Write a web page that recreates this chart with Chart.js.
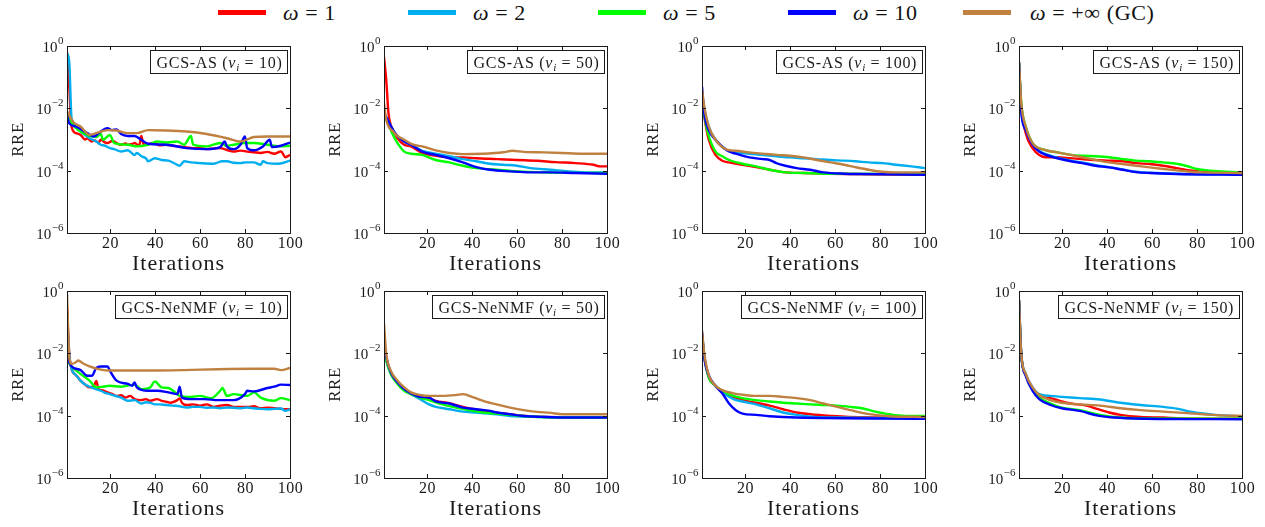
<!DOCTYPE html>
<html>
<head>
<meta charset="utf-8">
<script src="https://cdn.jsdelivr.net/npm/chart.js@4"></script>
<style>
  body { margin: 0; background: #fff; width: 1265px; height: 527px; overflow: hidden; position: relative; font-family: "Liberation Serif", serif; }
  .cell { position: absolute; }
  .key { position: absolute; top: 0; height: 26px; display: flex; align-items: center; font-size: 22px; letter-spacing: 0.6px; color: #111; white-space: nowrap; }
  .key i { font-style: italic; }
  .swatch { position: absolute; top: 10px; height: 5px; width: 48px; }
</style>
</head>
<body>
<div id="legend"></div>
<script>
// axis setup
const iterTicks = [20, 40, 60, 80, 100];
const rreExponents = [0, -2, -4, -6];
const omegaLabels = ["1", "2", "5", "10", "+\u221E (GC)"];
const seriesColors = ["#ff0000", "#00aeef", "#00ff00", "#0000ff", "#bf8040"];
const colLeft = [67, 384, 702, 1019];
const rowTop = [46, 291];

// RRE vs iteration, [iteration, RRE]
// GCS-AS, nu_i = 10
const as10_w1 = [[1,0.6],[2,0.05],[3,2.6e-3],[5,1.6e-3],[7,1.4e-3],[9,1.0e-3],[10,1.1e-3],[12,8.6e-4],[13,9.5e-4],[15,8.0e-4],[16,9.8e-4],[18,8.0e-4],[19,7.7e-4],[21,9.0e-4],[22,8.6e-4],[24,7.0e-4],[25,6.8e-4],[27,7.5e-4],[28,6.8e-4],[30,7.2e-4],[31,7.7e-4],[33,6.3e-4],[34,1.3e-3],[35,6.8e-4],[37,7.2e-4],[40,7.7e-4],[42,6.5e-4],[45,6.8e-4],[48,6.3e-4],[51,6.0e-4],[54,5.6e-4],[57,5.3e-4],[60,5.5e-4],[63,4.9e-4],[66,5.2e-4],[69,5.3e-4],[72,4.6e-4],[75,4.1e-4],[78,4.4e-4],[81,4.1e-4],[84,3.9e-4],[87,3.7e-4],[90,4.0e-4],[93,3.5e-4],[96,4.1e-4],[98,2.7e-4],[100,3.2e-4]];
const as10_w2 = [[1,0.6],[2,0.3],[3,5e-3],[5,2.6e-3],[7,1.8e-3],[9,1.4e-3],[11,1.1e-3],[14,8.6e-4],[16,6.8e-4],[18,6.3e-4],[20,5.3e-4],[22,4.9e-4],[25,4.1e-4],[28,4.5e-4],[31,3.2e-4],[32,3.7e-4],[34,2.9e-4],[36,2.5e-4],[37,2.0e-4],[40,2.5e-4],[43,2.2e-4],[46,2.1e-4],[49,1.67e-4],[51,1.44e-4],[53,2.0e-4],[56,1.84e-4],[60,1.75e-4],[66,1.67e-4],[70,2.0e-4],[72,2.0e-4],[75,1.8e-4],[78,1.75e-4],[80,1.84e-4],[84,1.84e-4],[87,1.55e-4],[88,2.0e-4],[90,1.75e-4],[95,1.67e-4],[100,2.1e-4]];
const as10_w5 = [[1,8e-3],[3,3.5e-3],[6,2.0e-3],[11,1.3e-3],[14,1.2e-3],[16,1.5e-3],[17,9.8e-4],[20,1.4e-3],[22,7.7e-4],[28,6.8e-4],[32,6.0e-4],[37,6.8e-4],[41,8.6e-4],[45,8.0e-4],[50,8.6e-4],[53,6.8e-4],[56,1.3e-3],[57,6.8e-4],[63,6.0e-4],[69,7.7e-4],[72,6.3e-4],[75,6.8e-4],[80,7.7e-4],[84,7.7e-4],[90,6.8e-4],[96,6.0e-4],[100,6.3e-4]];
const as10_w10 = [[1,6e-3],[2,3.3e-3],[5,2.6e-3],[10,1.6e-3],[13,1.25e-3],[15,1.6e-3],[19,2.3e-3],[21,2.0e-3],[23,2.1e-3],[25,1.5e-3],[28,1.3e-3],[31,1.3e-3],[34,9.8e-4],[37,7.3e-4],[45,6.8e-4],[54,5.3e-4],[63,4.9e-4],[69,5.7e-4],[71,8.6e-4],[72,6.0e-4],[75,4.9e-4],[78,6.8e-4],[80,1.25e-3],[81,5.3e-4],[84,4.5e-4],[88,6.0e-4],[91,9.8e-4],[92,5.7e-4],[96,6.3e-4],[100,8.0e-4]];
const as10_gc = [[1,8e-3],[4,3.5e-3],[7,2.6e-3],[11,1.4e-3],[14,1.6e-3],[19,2.0e-3],[23,1.95e-3],[28,1.6e-3],[32,1.6e-3],[37,2.0e-3],[45,1.95e-3],[54,1.8e-3],[63,1.5e-3],[72,1.1e-3],[78,8.6e-4],[84,1.2e-3],[90,1.25e-3],[100,1.25e-3]];

// GCS-AS, nu_i = 50
const as50_w1 = [[1,0.45],[2,8e-2],[3,7e-3],[5,2.0e-3],[7,1.1e-3],[10,6.8e-4],[13,6.0e-4],[18,3.7e-4],[24,3.0e-4],[30,2.7e-4],[36,2.66e-4],[42,2.5e-4],[51,2.35e-4],[60,2.2e-4],[69,2.08e-4],[77,1.88e-4],[86,1.75e-4],[94,1.55e-4],[97,1.37e-4],[100,1.37e-4]];
const as50_w2 = [[1,6e-3],[2,5e-3],[5,2.0e-3],[7,1.3e-3],[10,8.6e-4],[13,6.8e-4],[18,4.35e-4],[24,3.5e-4],[30,2.9e-4],[36,2.35e-4],[42,2.0e-4],[48,1.67e-4],[54,1.55e-4],[60,1.44e-4],[66,1.21e-4],[75,1.07e-4],[83,9.5e-5],[93,8.8e-5],[100,8.8e-5]];
const as50_w5 = [[1,6e-3],[2,4.5e-3],[5,1.4e-3],[7,7.7e-4],[10,4.1e-4],[13,3.5e-4],[18,3.2e-4],[24,2.2e-4],[30,1.84e-4],[36,1.44e-4],[42,1.21e-4],[51,1.07e-4],[60,9.5e-5],[72,8.8e-5],[100,8.4e-5]];
const as50_w10 = [[1,7e-3],[2,5.2e-3],[5,2.0e-3],[7,1.3e-3],[10,8.6e-4],[13,6.8e-4],[18,4.1e-4],[24,3.2e-4],[30,2.5e-4],[36,1.84e-4],[42,1.3e-4],[48,1.07e-4],[57,9.5e-5],[66,8.8e-5],[75,8.8e-5],[86,8.4e-5],[100,8.0e-5]];
const as50_gc = [[1,1.5e-2],[2,4.3e-3],[5,1.8e-3],[7,1.3e-3],[10,9.8e-4],[14,6.8e-4],[18,6.0e-4],[24,4.5e-4],[30,3.7e-4],[36,3.4e-4],[45,3.5e-4],[54,3.9e-4],[58,4.35e-4],[63,4.0e-4],[72,3.85e-4],[80,3.7e-4],[89,3.5e-4],[100,3.5e-4]];

// GCS-AS, nu_i = 100
const as100_w1 = [[1,2e-2],[2,5.5e-3],[4,9.8e-4],[7,3.2e-4],[10,2.08e-4],[13,1.84e-4],[19,1.55e-4],[25,1.3e-4],[31,1.07e-4],[37,9.0e-5],[46,8.4e-5],[57,8.0e-5],[100,7.4e-5]];
const as100_w2 = [[1,3e-2],[2,1e-2],[4,2.6e-3],[7,9.8e-4],[12,4.6e-4],[16,3.85e-4],[22,3.5e-4],[28,3.15e-4],[34,2.9e-4],[40,2.66e-4],[46,2.5e-4],[52,2.35e-4],[58,2.2e-4],[64,2.1e-4],[69,2.0e-4],[75,1.84e-4],[81,1.75e-4],[87,1.55e-4],[94,1.37e-4],[100,1.21e-4]];
const as100_w5 = [[1,2e-2],[2,6e-3],[4,1.3e-3],[7,4.1e-4],[10,2.9e-4],[13,2.2e-4],[19,1.67e-4],[25,1.37e-4],[31,1.07e-4],[37,9.0e-5],[46,8.4e-5],[57,8.0e-5],[100,7.8e-5]];
const as100_w10 = [[1,5e-2],[2,7e-3],[4,2.0e-3],[7,9.8e-4],[12,4.5e-4],[16,3.5e-4],[22,2.66e-4],[28,2.35e-4],[31,2.2e-4],[34,1.75e-4],[38,1.44e-4],[43,1.21e-4],[49,1.07e-4],[55,8.8e-5],[64,8.0e-5],[72,7.8e-5],[100,7.4e-5]];
const as100_gc = [[1,4e-2],[2,1.14e-2],[4,2.6e-3],[7,9.8e-4],[12,4.7e-4],[16,4.35e-4],[22,3.85e-4],[28,3.5e-4],[34,3.2e-4],[40,3.0e-4],[46,2.66e-4],[52,2.2e-4],[58,1.84e-4],[64,1.55e-4],[69,1.3e-4],[75,1.07e-4],[81,9.2e-5],[87,8.8e-5],[100,8.8e-5]];

// GCS-AS, nu_i = 150
const as150_w1 = [[1,0.3],[2,1.2e-2],[4,1.6e-3],[7,5.3e-4],[10,3.2e-4],[13,2.7e-4],[18,2.7e-4],[24,2.5e-4],[29,2.35e-4],[35,2.2e-4],[41,2.1e-4],[47,2.0e-4],[53,1.75e-4],[59,1.63e-4],[65,1.44e-4],[71,1.21e-4],[77,1.02e-4],[83,9.2e-5],[89,8.4e-5],[100,8.0e-5]];
const as150_w2 = [[1,0.3],[2,9e-3],[4,2.2e-3],[7,7.3e-4],[10,4.3e-4],[13,3.4e-4],[18,2.6e-4],[24,2.1e-4],[29,1.84e-4],[35,1.51e-4],[41,1.3e-4],[47,1.1e-4],[53,9.2e-5],[59,8.6e-5],[71,8.0e-5],[100,7.6e-5]];
const as150_w5 = [[1,0.3],[2,1.46e-2],[4,2.6e-3],[7,7.7e-4],[12,4.7e-4],[18,3.85e-4],[24,3.2e-4],[29,3.0e-4],[35,2.9e-4],[41,2.7e-4],[47,2.35e-4],[53,2.1e-4],[59,2.0e-4],[65,1.84e-4],[71,1.67e-4],[75,1.44e-4],[80,1.13e-4],[86,1.0e-4],[93,9.2e-5],[100,8.8e-5]];
const as150_w10 = [[1,0.3],[2,8e-3],[4,2.0e-3],[7,6.8e-4],[10,4.1e-4],[13,3.2e-4],[18,2.5e-4],[24,2.0e-4],[29,1.75e-4],[35,1.44e-4],[41,1.27e-4],[47,1.07e-4],[53,9.0e-5],[59,8.4e-5],[71,7.8e-5],[100,7.4e-5]];
const as150_gc = [[1,0.3],[2,1.46e-2],[4,2.6e-3],[7,7.7e-4],[12,4.7e-4],[18,3.85e-4],[24,3.2e-4],[29,2.7e-4],[35,2.2e-4],[41,1.84e-4],[47,1.63e-4],[53,1.44e-4],[59,1.27e-4],[65,1.13e-4],[71,1.02e-4],[77,9.2e-5],[83,8.8e-5],[100,8.4e-5]];

// GCS-NeNMF, nu_i = 10
const ne10_w1 = [[1,0.3],[2,1e-2],[3,3.2e-3],[5,2.0e-3],[7,1.33e-3],[9,1.0e-3],[11,8.1e-4],[13,9.0e-4],[14,1.3e-3],[15,7.1e-4],[17,6.5e-4],[19,5.6e-4],[21,5.0e-4],[23,4.3e-4],[25,4.5e-4],[27,3.8e-4],[29,4.3e-4],[31,3.4e-4],[34,3.15e-4],[36,3.4e-4],[38,3.0e-4],[41,3.4e-4],[43,3.0e-4],[45,2.8e-4],[47,2.6e-4],[50,3.15e-4],[51,3.6e-4],[52,2.6e-4],[54,2.2e-4],[57,2.3e-4],[60,2.1e-4],[63,2.3e-4],[66,1.91e-4],[69,2.1e-4],[72,2.2e-4],[75,1.91e-4],[78,1.91e-4],[81,1.91e-4],[84,2.0e-4],[87,1.73e-4],[90,1.8e-4],[93,1.73e-4],[96,1.65e-4],[100,1.61e-4]];
const ne10_w2 = [[1,0.2],[2,9e-3],[3,3.2e-3],[5,2.0e-3],[7,1.33e-3],[9,1.0e-3],[11,8.5e-4],[13,7.5e-4],[16,6.3e-4],[18,5.4e-4],[20,4.9e-4],[23,4.2e-4],[25,3.8e-4],[28,3.0e-4],[31,3.15e-4],[34,2.45e-4],[36,2.7e-4],[38,2.6e-4],[40,2.3e-4],[42,2.3e-4],[45,2.2e-4],[48,2.1e-4],[51,2.0e-4],[54,1.82e-4],[57,1.91e-4],[60,1.91e-4],[63,1.8e-4],[66,1.82e-4],[69,1.73e-4],[72,1.82e-4],[75,1.8e-4],[78,1.73e-4],[81,1.82e-4],[84,1.73e-4],[87,1.65e-4],[90,1.61e-4],[93,1.65e-4],[96,1.69e-4],[98,1.42e-4],[100,1.61e-4]];
const ne10_w5 = [[1,6e-3],[3,3.8e-3],[7,2.2e-3],[11,1.33e-3],[14,8.1e-4],[17,8.5e-4],[20,9.1e-4],[25,8.5e-4],[31,9.9e-4],[34,7.1e-4],[38,8.1e-4],[40,1.26e-3],[43,8.1e-4],[46,7.7e-4],[49,5.6e-4],[51,4.3e-4],[56,4.0e-4],[60,4.3e-4],[65,3.65e-4],[69,6.3e-4],[70,7.7e-4],[72,4.3e-4],[75,4.9e-4],[81,4.3e-4],[84,5.6e-4],[87,3.8e-4],[93,3.0e-4],[96,3.65e-4],[100,3.15e-4]];
const ne10_w10 = [[1,7.5e-3],[3,3.8e-3],[7,2.9e-3],[10,1.9e-3],[12,1.9e-3],[14,3.4e-3],[16,3.8e-3],[19,3.8e-3],[20,2.8e-3],[23,1.33e-3],[28,1.04e-3],[30,9.1e-4],[31,1.17e-3],[32,8.1e-4],[37,6.3e-4],[41,6.3e-4],[46,5.6e-4],[50,4.9e-4],[51,8.5e-4],[52,3.8e-4],[56,3.4e-4],[62,3.4e-4],[68,3.15e-4],[75,3.15e-4],[80,4.9e-4],[81,6.3e-4],[84,6.0e-4],[90,7.7e-4],[93,8.5e-4],[96,9.9e-4],[100,9.6e-4]];
const ne10_gc = [[1,0.84],[2,7.5e-3],[3,4.6e-3],[5,5.2e-3],[6,5.9e-3],[8,4.8e-3],[11,3.8e-3],[16,3.0e-3],[20,2.8e-3],[28,2.8e-3],[38,2.8e-3],[53,2.9e-3],[68,3.1e-3],[83,3.2e-3],[93,3.2e-3],[96,2.9e-3],[100,3.4e-3]];

// GCS-NeNMF, nu_i = 50
const ne50_w1 = [[1,1.5e-2],[2,7e-3],[4,2.3e-3],[7,1.1e-3],[10,6.8e-4],[13,5.0e-4],[17,4.0e-4],[21,3.65e-4],[24,3.0e-4],[30,2.5e-4],[36,1.9e-4],[42,1.55e-4],[48,1.35e-4],[54,1.17e-4],[60,1.04e-4],[70,9.3e-5],[100,8.7e-5]];
const ne50_w2 = [[1,1.5e-2],[2,6e-3],[4,2.2e-3],[7,1.1e-3],[10,6.8e-4],[13,4.9e-4],[17,3.4e-4],[21,2.3e-4],[24,1.91e-4],[30,1.61e-4],[36,1.35e-4],[42,1.26e-4],[51,1.11e-4],[57,9.8e-5],[72,9.1e-5],[100,8.7e-5]];
const ne50_w5 = [[1,1.5e-2],[2,6e-3],[4,2.2e-3],[7,1.04e-3],[10,6.3e-4],[13,4.9e-4],[17,3.8e-4],[21,3.15e-4],[27,2.3e-4],[33,1.82e-4],[39,1.5e-4],[45,1.26e-4],[51,1.17e-4],[57,1.06e-4],[69,9.1e-5],[100,8.7e-5]];
const ne50_w10 = [[1,2e-2],[2,7.5e-3],[4,2.5e-3],[7,1.17e-3],[10,7.1e-4],[13,5.2e-4],[17,4.0e-4],[21,3.8e-4],[24,2.85e-4],[30,2.45e-4],[36,1.82e-4],[42,1.61e-4],[48,1.42e-4],[51,1.26e-4],[57,1.11e-4],[63,9.8e-5],[72,9.1e-5],[86,8.7e-5],[100,8.7e-5]];
const ne50_gc = [[1,9e-2],[2,9.7e-3],[4,2.8e-3],[7,1.33e-3],[10,8.1e-4],[13,5.6e-4],[17,4.6e-4],[21,4.3e-4],[27,4.3e-4],[33,4.6e-4],[36,4.9e-4],[41,3.8e-4],[45,3.0e-4],[51,2.3e-4],[57,1.82e-4],[63,1.5e-4],[69,1.32e-4],[75,1.23e-4],[80,1.11e-4],[100,1.11e-4]];

// GCS-NeNMF, nu_i = 100
const ne100_w1 = [[1,4e-2],[2,8e-3],[4,1.7e-3],[7,9.1e-4],[10,5.6e-4],[15,4.0e-4],[19,3.15e-4],[25,2.6e-4],[31,2.1e-4],[37,1.61e-4],[43,1.26e-4],[49,1.11e-4],[58,9.8e-5],[66,9.1e-5],[100,8.7e-5]];
const ne100_w2 = [[1,4e-2],[2,8e-3],[4,1.7e-3],[7,9.1e-4],[10,5.6e-4],[15,3.4e-4],[19,2.85e-4],[25,2.3e-4],[31,1.73e-4],[37,1.26e-4],[43,1.06e-4],[51,9.1e-5],[61,8.7e-5],[100,8.2e-5]];
const ne100_w5 = [[1,4e-2],[2,8.5e-3],[4,1.7e-3],[7,9.1e-4],[10,6.3e-4],[15,4.3e-4],[19,3.65e-4],[25,3.15e-4],[31,2.85e-4],[37,2.6e-4],[43,2.45e-4],[49,2.3e-4],[55,2.2e-4],[61,2.1e-4],[67,1.91e-4],[72,1.73e-4],[78,1.35e-4],[84,1.11e-4],[91,9.8e-5],[100,9.8e-5]];
const ne100_w10 = [[1,5e-2],[2,7.5e-3],[4,2.0e-3],[7,9.1e-4],[10,5.2e-4],[13,2.45e-4],[16,1.5e-4],[19,1.17e-4],[25,1.06e-4],[31,9.6e-5],[43,8.7e-5],[100,8.0e-5]];
const ne100_gc = [[1,5.5e-2],[2,1.0e-2],[4,2.0e-3],[7,9.1e-4],[10,6.6e-4],[15,5.2e-4],[19,4.7e-4],[25,4.3e-4],[31,4.3e-4],[37,4.0e-4],[43,3.65e-4],[49,3.15e-4],[55,2.45e-4],[61,1.91e-4],[67,1.5e-4],[72,1.23e-4],[78,1.06e-4],[84,9.6e-5],[100,9.1e-5]];

// GCS-NeNMF, nu_i = 150
const ne150_w1 = [[1,0.5],[2,9.7e-3],[4,2.0e-3],[7,7.5e-4],[10,4.3e-4],[15,3.65e-4],[20,2.85e-4],[24,2.45e-4],[31,2.1e-4],[36,1.61e-4],[41,1.26e-4],[46,1.06e-4],[55,9.1e-5],[65,8.7e-5],[73,8.2e-5],[100,8.0e-5]];
const ne150_w2 = [[1,0.5],[2,9.7e-3],[4,2.2e-3],[7,8.1e-4],[10,4.9e-4],[15,4.3e-4],[20,4.0e-4],[28,3.65e-4],[37,3.3e-4],[46,2.6e-4],[55,2.2e-4],[65,1.91e-4],[71,1.69e-4],[77,1.35e-4],[83,1.17e-4],[88,1.06e-4],[100,9.6e-5]];
const ne150_w5 = [[1,0.5],[2,9e-3],[4,2.0e-3],[7,6.6e-4],[10,3.8e-4],[15,2.45e-4],[20,1.82e-4],[28,1.5e-4],[36,1.1e-4],[43,9.1e-5],[57,8.2e-5],[100,8.0e-5]];
const ne150_w10 = [[1,0.5],[2,9e-3],[4,1.9e-3],[7,6.3e-4],[10,3.4e-4],[15,2.2e-4],[20,1.73e-4],[28,1.42e-4],[36,1.0e-4],[43,8.7e-5],[57,8.0e-5],[100,7.7e-5]];
const ne150_gc = [[1,0.5],[2,9.7e-3],[4,2.2e-3],[7,8.1e-4],[10,4.6e-4],[15,3.15e-4],[20,2.6e-4],[28,2.3e-4],[37,2.1e-4],[46,1.73e-4],[55,1.5e-4],[65,1.35e-4],[74,1.23e-4],[83,1.11e-4],[91,1.02e-4],[100,9.8e-5]];

const panels = [
  { method: "GCS-AS", nu: 10, col: 0, row: 0, series: [as10_w1, as10_w2, as10_w5, as10_w10, as10_gc] },
  { method: "GCS-AS", nu: 50, col: 1, row: 0, series: [as50_w1, as50_w2, as50_w5, as50_w10, as50_gc] },
  { method: "GCS-AS", nu: 100, col: 2, row: 0, series: [as100_w1, as100_w2, as100_w5, as100_w10, as100_gc] },
  { method: "GCS-AS", nu: 150, col: 3, row: 0, series: [as150_w1, as150_w2, as150_w5, as150_w10, as150_gc] },
  { method: "GCS-NeNMF", nu: 10, col: 0, row: 1, series: [ne10_w1, ne10_w2, ne10_w5, ne10_w10, ne10_gc] },
  { method: "GCS-NeNMF", nu: 50, col: 1, row: 1, series: [ne50_w1, ne50_w2, ne50_w5, ne50_w10, ne50_gc] },
  { method: "GCS-NeNMF", nu: 100, col: 2, row: 1, series: [ne100_w1, ne100_w2, ne100_w5, ne100_w10, ne100_gc] },
  { method: "GCS-NeNMF", nu: 150, col: 3, row: 1, series: [ne150_w1, ne150_w2, ne150_w5, ne150_w10, ne150_gc] },
];

const SERIF = '"Liberation Serif", serif';
const INK = "#1a1a1a";

// legend along the top
const legendX = [218, 408, 598, 788, 963];
const legendTextX = [283, 473, 663, 853, 1030];
const legend = document.getElementById("legend");
omegaLabels.forEach((lab, i) => {
  const sw = document.createElement("div");
  sw.className = "swatch";
  sw.style.left = legendX[i] + "px";
  sw.style.background = seriesColors[i];
  legend.appendChild(sw);
  const key = document.createElement("div");
  key.className = "key";
  key.style.left = legendTextX[i] + "px";
  key.innerHTML = "<i>\u03C9</i>&nbsp;=&nbsp;" + lab;
  legend.appendChild(key);
});

// frame, inward ticks, labels and the title box, pgfplots style
const framePlugin = {
  id: "frame",
  afterDatasetsDraw(chart, args, opts) {
    const { ctx, chartArea: a, scales } = chart;
    const xs = scales.x, ys = scales.y;
    ctx.save();
    ctx.strokeStyle = INK;
    ctx.fillStyle = INK;
    ctx.lineWidth = 1;
    ctx.strokeRect(Math.round(a.left) + 0.5, Math.round(a.top) + 0.5,
      Math.round(a.right - a.left), Math.round(a.bottom - a.top));

    // x ticks and labels
    ctx.font = "16px " + SERIF;
    ctx.letterSpacing = "0.5px";
    ctx.textAlign = "center";
    ctx.textBaseline = "top";
    iterTicks.forEach(v => {
      const px = Math.round(xs.getPixelForValue(v)) + 0.5;
      ctx.beginPath();
      ctx.moveTo(px, a.bottom); ctx.lineTo(px, a.bottom - 4);
      ctx.moveTo(px, a.top); ctx.lineTo(px, a.top + 4);
      ctx.stroke();
      ctx.fillText(String(v), px, a.bottom + 3);
    });
    ctx.letterSpacing = "0px";

    // y ticks and labels as 10^e
    rreExponents.forEach(e => {
      const py = Math.round(ys.getPixelForValue(Math.pow(10, e))) + 0.5;
      ctx.beginPath();
      ctx.moveTo(a.left, py); ctx.lineTo(a.left + 4, py);
      ctx.moveTo(a.right, py); ctx.lineTo(a.right - 4, py);
      ctx.stroke();
      const sup = e === 0 ? "0" : "\u2212" + Math.abs(e);
      ctx.textAlign = "left";
      ctx.textBaseline = "alphabetic";
      ctx.font = "11px " + SERIF;
      const supW = ctx.measureText(sup).width;
      ctx.font = "15px " + SERIF;
      const baseW = ctx.measureText("10").width;
      const x0 = a.left - 4 - supW - baseW;
      ctx.fillText("10", x0, py + 5);
      ctx.font = "11px " + SERIF;
      ctx.fillText(sup, x0 + baseW + 0.5, py - 3);
    });

    // axis titles
    ctx.textAlign = "center";
    ctx.textBaseline = "middle";
    ctx.font = "22px " + SERIF;
    ctx.letterSpacing = "1px";
    ctx.fillText("Iterations", (a.left + a.right) / 2, a.bottom + 31);
    ctx.save();
    ctx.translate(a.left - 48, (a.top + a.bottom) / 2);
    ctx.rotate(-Math.PI / 2);
    ctx.font = "17px " + SERIF;
    ctx.letterSpacing = "0.5px";
    ctx.fillText("RRE", 0, 0);
    ctx.restore();

    // boxed panel title: method (nu_i = n)
    ctx.letterSpacing = "0.7px";
    const parts = [
      { t: opts.method + " (", f: "16px " + SERIF, dy: 0 },
      { t: "\u03BD", f: "italic 16px " + SERIF, dy: 0 },
      { t: "i", f: "italic 11px " + SERIF, dy: 3 },
      { t: " = " + opts.nu + ")", f: "16px " + SERIF, dy: 0 },
    ];
    let w = 0;
    parts.forEach(p => { ctx.font = p.f; p.w = ctx.measureText(p.t).width; w += p.w; });
    const bw = Math.round(w + 11), bh = 23;
    const bx = Math.round(a.right - 3 - bw) + 0.5, by = Math.round(a.top + 4) + 0.5;
    ctx.fillStyle = "#fff";
    ctx.fillRect(bx, by, bw, bh);
    ctx.strokeRect(bx, by, bw, bh);
    ctx.fillStyle = INK;
    ctx.textAlign = "left";
    ctx.textBaseline = "alphabetic";
    let tx = bx + 6;
    parts.forEach(p => { ctx.font = p.f; ctx.fillText(p.t, tx, by + 17 + p.dy); tx += p.w; });
    ctx.restore();
  }
};

const PAD = { left: 67, right: 22, top: 26, bottom: 48 };
const PLOT_W = 223, PLOT_H = 187;

panels.forEach((p, k) => {
  const cell = document.createElement("div");
  cell.className = "cell";
  cell.style.left = (colLeft[p.col] - PAD.left) + "px";
  cell.style.top = (rowTop[p.row] - PAD.top) + "px";
  const canvas = document.createElement("canvas");
  canvas.width = PAD.left + PLOT_W + PAD.right;
  canvas.height = PAD.top + PLOT_H + PAD.bottom;
  cell.appendChild(canvas);
  document.body.appendChild(cell);

  new Chart(canvas.getContext("2d"), {
    type: "line",
    data: {
      datasets: p.series.map((pts, i) => ({
        label: "\u03C9 = " + omegaLabels[i],
        data: pts.map(([it, v]) => ({ x: it, y: v })),
        borderColor: seriesColors[i],
        borderWidth: 2.4,
        pointRadius: 0,
        fill: false,
        cubicInterpolationMode: "monotone",
        order: 5 - i,
      })),
    },
    options: {
      responsive: false,
      animation: false,
      layout: { padding: PAD },
      plugins: {
        legend: { display: false },
        tooltip: { enabled: false },
        frame: { method: p.method, nu: p.nu },
      },
      scales: {
        x: { type: "linear", min: 1, max: 100, display: false },
        y: { type: "logarithmic", min: 1e-6, max: 1, display: false },
      },
    },
    plugins: [framePlugin],
  });
});
</script>
</body>
</html>
